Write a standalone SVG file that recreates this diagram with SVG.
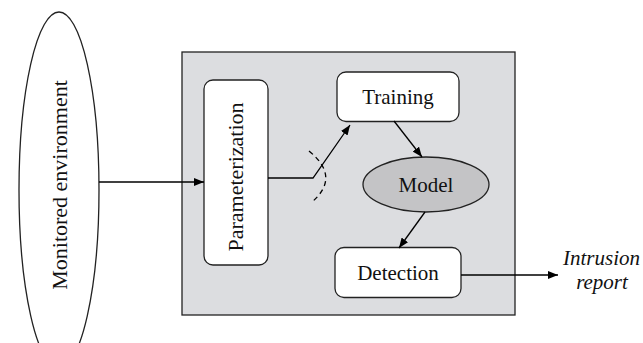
<svg xmlns="http://www.w3.org/2000/svg" width="643" height="343" viewBox="0 0 643 343">
<defs>
<marker id="arr" viewBox="0 0 10 8" refX="10" refY="4" markerWidth="10" markerHeight="8" markerUnits="userSpaceOnUse" orient="auto">
<path d="M0,0 L10,4 L0,8 Z" fill="#000"/>
</marker>
</defs>
<style>
.lbl{font-family:"Liberation Serif","DejaVu Serif",serif;font-size:21px;fill:#111;text-anchor:middle}
.big{font-size:22px}
.it{font-style:italic}
.box{fill:#fff;stroke:#222;stroke-width:1.3}
.con{fill:none;stroke:#000;stroke-width:1.3}
</style>
<rect width="643" height="343" fill="#fff"/>
<g id="env">
<ellipse cx="59" cy="190" rx="40" ry="178" fill="#fff" stroke="#222" stroke-width="1.3"/>
<text class="lbl big" transform="translate(67,185) rotate(-90)">Monitored environment</text>
</g>
<g id="system">
<rect x="182" y="52" width="333" height="263" fill="#dcdde0" stroke="#222" stroke-width="1.3"/>
</g>
<g id="param">
<rect class="box" x="204" y="80" width="64" height="185" rx="9"/>
<text class="lbl big" transform="translate(243,177) rotate(-90)">Parameterization</text>
</g>
<g id="training">
<rect class="box" x="337" y="72" width="122" height="49.5" rx="9"/>
<text class="lbl" x="398" y="103.5">Training</text>
</g>
<g id="model">
<ellipse cx="426" cy="184.5" rx="63" ry="27.5" fill="#c4c4c6" stroke="#222" stroke-width="1.3"/>
<text class="lbl" x="426" y="191.5">Model</text>
</g>
<g id="detection">
<rect class="box" x="335" y="247.5" width="126" height="50" rx="9"/>
<text class="lbl" x="398" y="280">Detection</text>
</g>
<g id="report">
<text class="lbl it" x="601.5" y="265">Intrusion</text>
<text class="lbl it" x="602" y="289">report</text>
</g>
<g id="connectors">
<line class="con" x1="99" y1="182" x2="204" y2="182" marker-end="url(#arr)"/>
<polyline class="con" points="268,178 313,178 350,125" marker-end="url(#arr)"/>
<path class="con" d="M309,151 Q341,177 312,202" stroke-dasharray="5,4"/>
<line class="con" x1="394" y1="121" x2="422" y2="157" marker-end="url(#arr)"/>
<line class="con" x1="425" y1="212" x2="399" y2="248" marker-end="url(#arr)"/>
<line class="con" x1="461" y1="275" x2="558" y2="275" marker-end="url(#arr)"/>
</g>
</svg>
